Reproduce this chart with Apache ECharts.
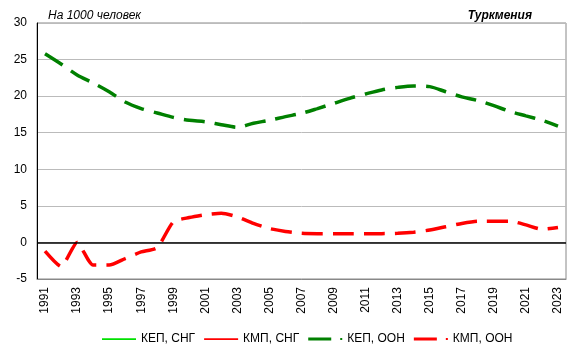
<!DOCTYPE html>
<html><head><meta charset="utf-8">
<script src="https://cdn.jsdelivr.net/npm/echarts@6/dist/echarts.min.js"></script>
<style>html,body{margin:0;padding:0;background:#fff}#c{width:578px;height:354px}</style>
</head><body><div id="c"></div>
<script>
const years = ['1991','1992','1993','1994','1995','1996','1997','1998','1999','2000','2001','2002','2003','2004','2005','2006','2007','2008','2009','2010','2011','2012','2013','2014','2015','2016','2017','2018','2019','2020','2021','2022','2023'];
const kepCis = [];
const kmpCis = [];
const kepUn = [25.8,24.4,22.9,21.8,20.6,19.2,18.3,17.7,17.1,16.7,16.5,16.1,15.75,16.3,16.7,17.2,17.65,18.3,19.0,19.7,20.3,20.85,21.2,21.4,21.3,20.6,19.9,19.4,18.7,17.9,17.3,16.7,15.9];
const kmpUn = [-1.2,-3.3,0.0,-3.1,-3.1,-2.2,-1.3,-0.7,2.8,3.4,3.8,4.0,3.5,2.6,1.9,1.5,1.25,1.2,1.2,1.2,1.2,1.2,1.25,1.4,1.7,2.15,2.6,2.9,2.9,2.9,2.4,1.8,2.05];
const yTicks = [-5,0,5,10,15,20,25,30];

const font = 'Arial, "Liberation Sans", sans-serif';
const iconSolid = 'path://M0,0M34,4M0,1.2h34v1.8h-34z';
const iconDot = 'path://M0,0M34,4M0,0.5h23v3h-23zM32,1h2v2h-2z';
const chart = echarts.init(document.getElementById('c'));
chart.setOption({
  animation: false,
  grid: {left: 37, right: 12, top: 23, bottom: 75, show: true, borderColor: '#888', borderWidth: 1},
  title: [
    {text: 'На 1000 человек', left: 43, top: 5, textStyle: {fontFamily: font, fontSize: 12, fontStyle: 'italic', fontWeight: 'normal', color: '#000'}},
    {text: 'Туркмения', right: 41, top: 5, textStyle: {fontFamily: font, fontSize: 12, fontStyle: 'italic', fontWeight: 'bold', color: '#000'}}
  ],
  legend: {
    bottom: 4, left: 97, itemGap: 9, itemWidth: 34, itemHeight: 4,
    textStyle: {fontFamily: font, fontSize: 12, color: '#000'},
    data: [
      {name: 'КЕП, СНГ', icon: iconSolid},
      {name: 'КМП, СНГ', icon: iconSolid},
      {name: 'КЕП, ООН', icon: iconDot},
      {name: 'КМП, ООН', icon: iconDot}
    ]
  },
  xAxis: {
    type: 'category', data: years, boundaryGap: true,
    axisLine: {onZero: false, lineStyle: {color: '#888'}},
    axisTick: {show: false},
    axisLabel: {rotate: 90, interval: 1, fontFamily: font, fontSize: 12, color: '#000', margin: 8}
  },
  yAxis: {
    type: 'value', min: yTicks[0], max: yTicks[yTicks.length-1], interval: 5,
    axisLine: {show: true, lineStyle: {color: '#000'}},
    axisTick: {show: false},
    axisLabel: {fontFamily: font, fontSize: 12, color: '#000', margin: 10},
    splitLine: {lineStyle: {color: '#bbb'}}
  },
  series: [
    {name: 'КЕП, СНГ', type: 'line', data: kepCis, symbol: 'none', itemStyle: {color: '#00e000'}, lineStyle: {color: '#00e000', width: 2}},
    {name: 'КМП, СНГ', type: 'line', data: kmpCis, symbol: 'none', itemStyle: {color: '#ff0000'}, lineStyle: {color: '#ff0000', width: 2}},
    {name: 'КЕП, ООН', type: 'line', data: kepUn, smooth: 0.3, symbol: 'none',
      itemStyle: {color: '#008000'}, lineStyle: {color: '#008000', width: 3.5, type: [21, 10]}},
    {name: 'КМП, ООН', type: 'line', data: kmpUn, smooth: 0.2, symbol: 'none',
      itemStyle: {color: '#ff0000'}, lineStyle: {color: '#ff0000', width: 3.5, type: [21, 10]},
      markLine: {silent: true, symbol: 'none', label: {show: false}, lineStyle: {color: '#000', width: 1.5, type: 'solid'}, data: [{yAxis: 0}]}}
  ]
});
</script></body></html>
